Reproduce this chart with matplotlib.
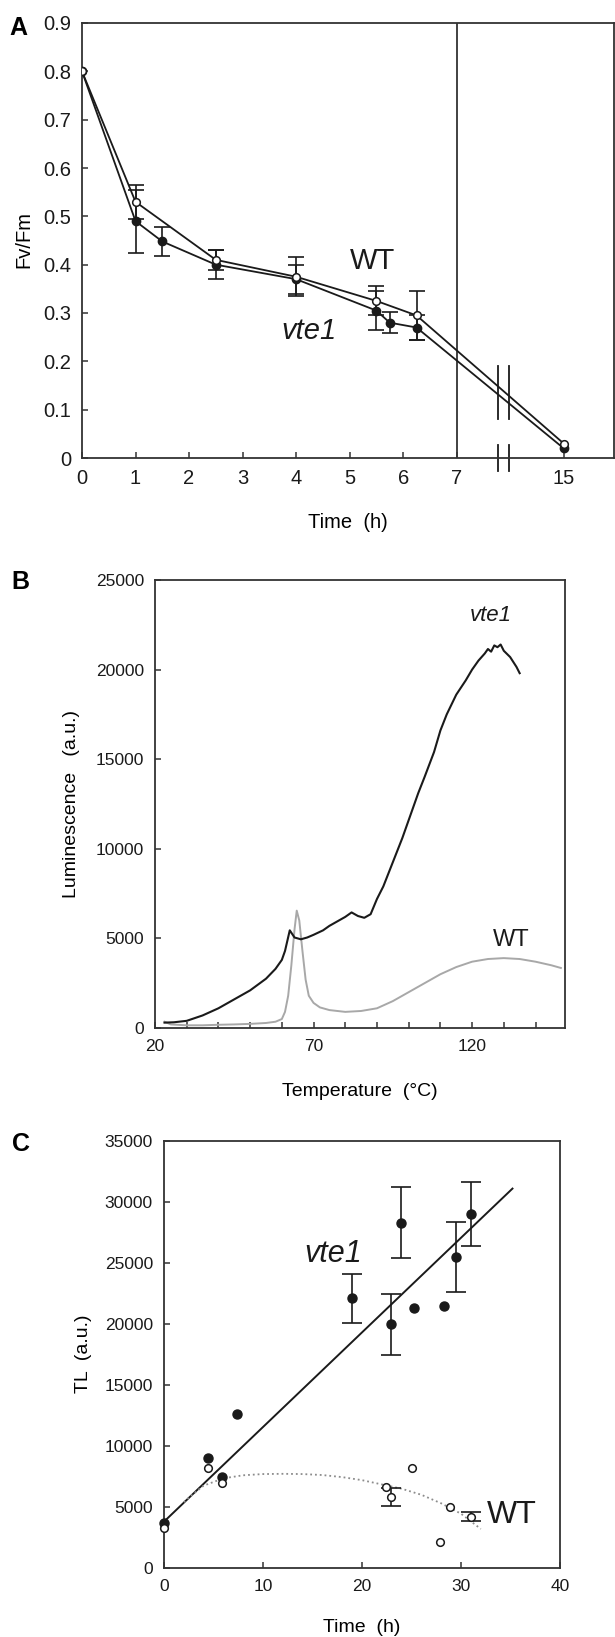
import numpy as np
import matplotlib.pyplot as plt

plt.rcParams['font.family'] = ['Liberation Sans', 'DejaVu Sans']

# ---------------------------------------------------------------
# Panel A: Fv/Fm during high light, WT vs vte1
# ---------------------------------------------------------------
a_ticks = [0, 1, 2, 3, 4, 5, 6, 7, 15]
a_wt_t = [0, 1, 2.5, 4, 5.5, 6.25, 15]
a_wt = [0.80, 0.53, 0.41, 0.375, 0.325, 0.295, 0.03]
a_wt_err = [0, 0.035, 0.02, 0.04, 0.03, 0.05, 0]
a_vte_t = [0, 1, 1.5, 2.5, 4, 5.5, 5.75, 6.25, 15]
a_vte = [0.80, 0.49, 0.448, 0.40, 0.37, 0.305, 0.28, 0.27, 0.02]
a_vte_err = [0, 0.065, 0.03, 0.03, 0.03, 0.04, 0.022, 0.025, 0]

# ---------------------------------------------------------------
# Panel B: thermoluminescence glow curves
# ---------------------------------------------------------------
b_vte_temp = [23, 26, 30, 35, 40, 45, 50, 55, 58, 60, 61, 62.5, 64, 66, 68, 70,
              73, 75, 78, 80, 82, 84, 86, 88, 90, 92, 95, 98, 100, 103, 105,
              108, 110, 112, 115, 118, 120, 122, 124, 125, 126, 127, 128, 129,
              130, 132, 134, 135]
b_vte_lum = [300, 320, 400, 700, 1100, 1600, 2100, 2750, 3300, 3800, 4300, 5450,
             5050, 4950, 5050, 5200, 5450, 5700, 6000, 6200, 6450, 6250, 6150,
             6350, 7200, 7900, 9250, 10600, 11600, 13100, 14000, 15400, 16600,
             17500, 18600, 19400, 20000, 20500, 20900, 21150, 21000, 21350, 21250,
             21400, 21050, 20700, 20150, 19800]
b_wt_temp = [23, 25, 30, 35, 40, 45, 50, 55, 58, 60, 61, 62, 63, 64, 64.7, 65.5,
             66.5, 67.5, 68.5, 70, 72, 75, 80, 85, 90, 95, 100, 105, 110, 115,
             120, 125, 130, 135, 140, 145, 148]
b_wt_lum = [350, 200, 150, 150, 180, 200, 230, 280, 350, 500, 900, 1800, 3500,
            5500, 6550, 6000, 4300, 2700, 1800, 1400, 1150, 1000, 900, 950, 1100,
            1500, 2000, 2500, 3000, 3400, 3700, 3850, 3900, 3850, 3700, 3500, 3350]

# ---------------------------------------------------------------
# Panel C: TL amplitude vs time
# ---------------------------------------------------------------
c_vte_t = [0, 4.4, 5.9, 7.4, 19.0, 22.9, 23.9, 25.3, 28.3, 29.5, 31.0]
c_vte = [3700, 9000, 7500, 12600, 22100, 20000, 28300, 21300, 21500, 25500, 29000]
c_vte_err = [0, 0, 0, 0, 2000, 2500, 2900, 0, 0, 2900, 2600]
c_wt_t = [0, 4.4, 5.9, 22.4, 22.9, 25.0, 27.9, 28.9, 31.0]
c_wt = [3300, 8200, 7000, 6600, 5800, 8200, 2100, 5000, 4200]
c_wt_err = [0, 0, 0, 0, 750, 0, 0, 0, 350]
c_vte_fit_t = [0, 35.2]
c_vte_fit = [3800, 31100]
c_wt_fit_t = [2, 3, 4, 6, 8, 10, 12, 14, 16, 18, 20, 22, 24, 26, 28, 30, 32]
c_wt_fit = [5400, 6100, 6750, 7350, 7600, 7700, 7720, 7700, 7620, 7450, 7200,
            6850, 6500, 6000, 5300, 4450, 3200]

W, H = 615, 1637
INK = '#1a1a1a'

fig = plt.figure(figsize=(W / 100, H / 100), dpi=100)


def add_axes_px(left, top, right, bottom):
    return fig.add_axes([left / W, 1 - bottom / H, (right - left) / W, (bottom - top) / H])


def style(ax, size):
    for s in ax.spines.values():
        s.set_linewidth(1.3)
        s.set_color('#333333')
    ax.tick_params(direction='in', length=4, width=1.1, color='#333333',
                   labelsize=size, labelcolor=INK, pad=8)


def squeeze(t):
    # broken time axis: everything after 7 h is compressed 4x
    t = np.asarray(t, float)
    return np.where(t <= 7, t, 7 + (t - 7) / 4)


def only_err(x, y, e):
    x, y, e = np.asarray(x, float), np.asarray(y, float), np.asarray(e, float)
    m = e > 0
    return x[m], y[m], e[m]


# ---------------- A ----------------
axA = add_axes_px(82, 23, 614, 458)
style(axA, 14.5)
axA.set_xlim(0, 9.94)
axA.set_ylim(0, 0.9)
axA.set_yticks(np.arange(0, 0.91, 0.1))
axA.set_yticklabels(['0'] + ['%.1f' % v for v in np.arange(0.1, 0.91, 0.1)])
axA.set_xticks(squeeze(a_ticks))
axA.set_xticklabels([str(t) for t in a_ticks])
axA.axvline(7, color='#333333', lw=1.3)

for t, v, e in [only_err(a_vte_t, a_vte, a_vte_err), only_err(a_wt_t, a_wt, a_wt_err)]:
    axA.errorbar(squeeze(t), v, yerr=e, fmt='none', ecolor=INK, elinewidth=1.2,
                 capsize=6, capthick=1.2, zorder=2)
axA.plot(squeeze(a_vte_t), a_vte, '-o', color=INK, lw=1.3, ms=6, zorder=3)
axA.plot(squeeze(a_wt_t), a_wt, '-o', color=INK, mfc='white', mec=INK,
         mew=1.1, lw=1.3, ms=5.5, zorder=4)

for xb in (7.78, 7.97):
    axA.plot([xb, xb], [0.08, 0.19], color=INK, lw=1.3)
    axA.plot([xb, xb], [-0.027, 0.027], color=INK, lw=1.3, clip_on=False)

axA.text(5.42, 0.407, 'WT', fontsize=21, ha='center', va='center', color=INK)
axA.text(4.24, 0.262, 'vte1', fontsize=21, style='italic', ha='center',
         va='center', color=INK)

fig.text(18 / W, 1 - 28 / H, 'A', fontsize=18, fontweight='bold', ha='center', va='center')
fig.text(24 / W, 1 - 240 / H, 'Fv/Fm', fontsize=14.5, rotation=90, ha='center', va='center')
fig.text(348 / W, 1 - 522 / H, 'Time  (h)', fontsize=14.5, ha='center', va='center')

# ---------------- B ----------------
axB = add_axes_px(155, 580, 565, 1028)
style(axB, 12.5)
axB.set_xlim(20, 149.3)
axB.set_ylim(0, 25000)
axB.set_yticks(np.arange(0, 25001, 5000))
xt = np.arange(20, 150, 10)
axB.set_xticks(xt)
axB.set_xticklabels([str(v) if v in (20, 70, 120) else '' for v in xt])
axB.plot(b_wt_temp, b_wt_lum, color='#a8a8a8', lw=1.4)
axB.plot(b_vte_temp, b_vte_lum, color=INK, lw=1.5)
axB.text(125.8, 23000, 'vte1', fontsize=16, style='italic', ha='center', va='center', color=INK)
axB.text(132.3, 4910, 'WT', fontsize=17, ha='center', va='center', color=INK)

fig.text(20 / W, 1 - 582 / H, 'B', fontsize=18, fontweight='bold', ha='center', va='center')
fig.text(72 / W, 1 - 804 / H, 'Luminescence   (a.u.)', fontsize=14, rotation=90,
         ha='center', va='center')
fig.text(360 / W, 1 - 1092 / H, 'Temperature  (\u00b0C)', fontsize=14, ha='center', va='center')

# ---------------- C ----------------
axC = add_axes_px(164, 1141, 560, 1568)
style(axC, 12.5)
axC.set_xlim(0, 40)
axC.set_ylim(0, 35000)
axC.set_yticks(np.arange(0, 35001, 5000))
axC.set_xticks(np.arange(0, 41, 10))

axC.plot(c_vte_fit_t, c_vte_fit, color=INK, lw=1.4, zorder=2)
axC.plot(c_wt_fit_t, c_wt_fit, color='#8c8c8c', lw=1.3, ls=':', zorder=2)
for t, v, e in [only_err(c_vte_t, c_vte, c_vte_err), only_err(c_wt_t, c_wt, c_wt_err)]:
    axC.errorbar(t, v, yerr=e, fmt='none', ecolor=INK, elinewidth=1.2,
                 capsize=7, capthick=1.2, zorder=3)
axC.plot(c_vte_t, c_vte, 'o', color=INK, ms=6.5, zorder=4, clip_on=False)
axC.plot(c_wt_t, c_wt, 'o', mfc='white', mec=INK, mew=1.1, ms=5.5, zorder=5, clip_on=False)

axC.text(17.1, 25700, 'vte1', fontsize=22, style='italic', ha='center', va='center', color=INK)
axC.text(35.1, 4350, 'WT', fontsize=23, ha='center', va='center', color=INK)

fig.text(21 / W, 1 - 1144 / H, 'C', fontsize=18, fontweight='bold', ha='center', va='center')
fig.text(84 / W, 1 - 1354 / H, 'TL  (a.u.)', fontsize=14, rotation=90, ha='center', va='center')
fig.text(362 / W, 1 - 1627 / H, 'Time  (h)', fontsize=14, ha='center', va='center')

fig.savefig('out.png', dpi=100)
